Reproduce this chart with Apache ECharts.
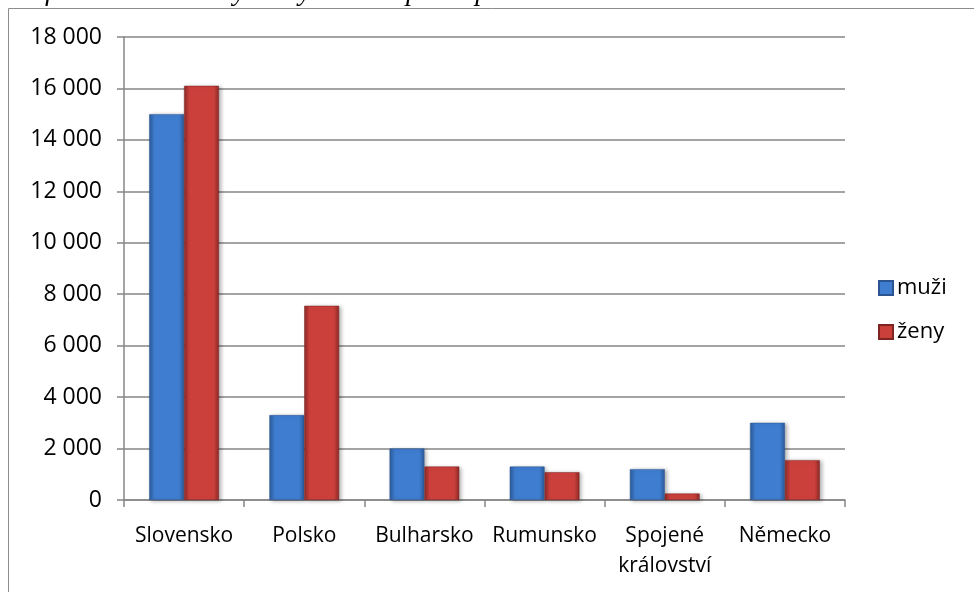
<!DOCTYPE html>
<html>
<head>
<meta charset="utf-8">
<script src="https://cdn.jsdelivr.net/npm/echarts@6/dist/echarts.min.js"></script>
<style>
  html, body { margin: 0; padding: 0; background: #fff; }
  #chart { width: 974px; height: 592px; }
</style>
</head>
<body>
<div id="chart"></div>
<script>
  var categories = ['Slovensko', 'Polsko', 'Bulharsko', 'Rumunsko', 'Spojené\nkrálovství', 'Německo']
  var muzi = [15000, 3300, 2000, 1300, 1200, 3000]
  var zeny = [16100, 7550, 1300, 1080, 250, 1550]
  var yTicks = { min: 0, max: 18000, interval: 2000 }

  var font = '"Open Sans", "Noto Sans", sans-serif'

  function barGrad (edge, mid) {
    return new echarts.graphic.LinearGradient(0, 0, 1, 0, [
      { offset: 0, color: edge },
      { offset: 0.15, color: mid },
      { offset: 0.85, color: mid },
      { offset: 1, color: edge }
    ])
  }

  var myChart = echarts.init(document.getElementById('chart'))
  var option = {
    animation: false,
    graphic: [
      {
        type: 'rect',
        shape: { x: 8.5, y: 8.5, width: 1000, height: 700 },
        style: { fill: 'none', stroke: '#8c8c8c', lineWidth: 1 }
      },
      {
        type: 'text',
        left: 0,
        top: -21,
        style: {
          text: 'Graf č. 3: Cizinci z vybraných států podle pohlaví',
          font: 'italic 28px "Liberation Serif", serif',
          fill: '#000'
        }
      }
    ],
    grid: { left: 124, right: 129, top: 37, bottom: 92 },
    legend: {
      orient: 'vertical',
      left: 873,
      top: 272,
      itemWidth: 14,
      itemHeight: 14,
      itemGap: 22,
      icon: 'rect',
      textStyle: { fontFamily: font, fontSize: 22, color: '#000', padding: [0, 0, 0, -1] },
      data: ['muži', 'ženy']
    },
    xAxis: {
      type: 'category',
      data: categories,
      axisLine: { lineStyle: { color: '#868686', width: 1.5 } },
      axisTick: { show: true, length: 7, lineStyle: { color: '#868686', width: 1.5 } },
      axisLabel: {
        fontFamily: font, fontSize: 21, color: '#000',
        margin: 21, lineHeight: 30, interval: 0, hideOverlap: false
      }
    },
    yAxis: {
      type: 'value',
      min: yTicks.min,
      max: yTicks.max,
      interval: yTicks.interval,
      axisLine: { show: true, lineStyle: { color: '#868686', width: 1.5 } },
      axisTick: { show: true, length: 7, lineStyle: { color: '#868686', width: 1.5 } },
      splitLine: { lineStyle: { color: '#868686', width: 1.5 } },
      axisLabel: {
        fontFamily: font,
        fontSize: 23,
        color: '#000',
        margin: 22,
        formatter: function (v) {
          return String(v).replace(/\B(?=(\d{3})+(?!\d))/g, ' ')
        }
      }
    },
    series: [
      {
        name: 'muži',
        type: 'bar',
        data: muzi,
        barGap: '0%',
        barCategoryGap: '42%',
        itemStyle: {
          color: barGrad('#2c5b9a', '#3f7dd0'),
          borderColor: '#2a5590',
          borderWidth: 0.5,
          shadowColor: 'rgba(0,0,0,0.3)',
          shadowBlur: 4,
          shadowOffsetX: 2,
          shadowOffsetY: 1
        }
      },
      {
        name: 'ženy',
        type: 'bar',
        data: zeny,
        itemStyle: {
          color: barGrad('#8e2a27', '#cc403c'),
          borderColor: '#7e2522',
          borderWidth: 0.5,
          shadowColor: 'rgba(0,0,0,0.3)',
          shadowBlur: 4,
          shadowOffsetX: 2,
          shadowOffsetY: 1
        }
      }
    ]
  }
  myChart.setOption(option)
</script>
</body>
</html>
